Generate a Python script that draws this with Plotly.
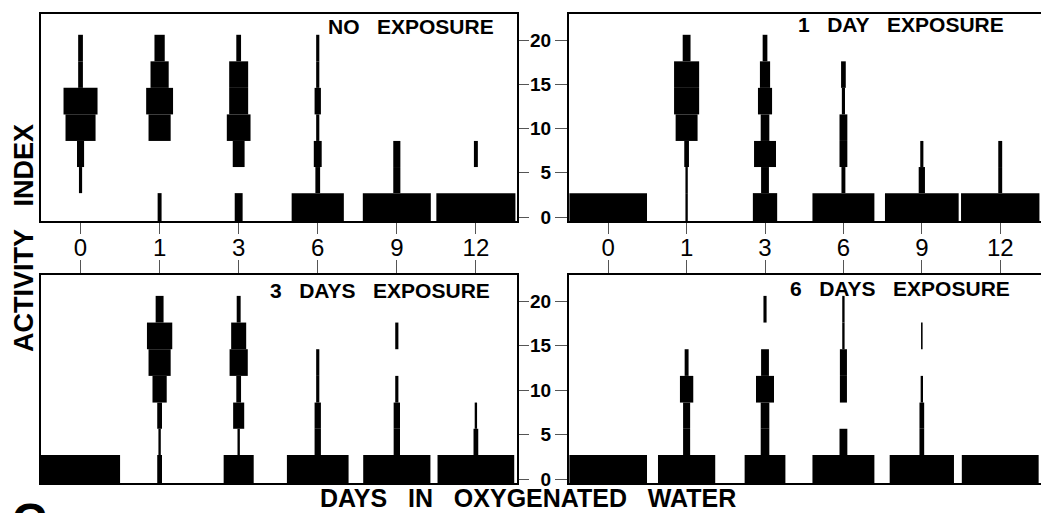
import plotly.graph_objects as go

# ---------------- data ----------------
days = ["0", "1", "3", "6", "9", "12"]
panel_titles = ["NO EXPOSURE", "1 DAY EXPOSURE", "3 DAYS EXPOSURE", "6 DAYS EXPOSURE"]
# activity-index class boundaries (bottom class = inactive)
level_edges = [-0.45, 2.7, 5.65, 8.6, 11.6, 14.6, 17.6, 20.6]
y_ticks = [0, 5, 10, 15, 20]

# kite widths (fraction of column spacing) per day, per activity class (low -> high)
no_exposure = [
    [0.00, 0.04, 0.09, 0.38, 0.43, 0.06, 0.06],
    [0.05, 0.00, 0.00, 0.28, 0.34, 0.23, 0.13],
    [0.10, 0.00, 0.15, 0.30, 0.24, 0.24, 0.06],
    [0.66, 0.06, 0.10, 0.04, 0.08, 0.04, 0.04],
    [0.86, 0.09, 0.09, 0.00, 0.00, 0.00, 0.00],
    [1.00, 0.00, 0.05, 0.00, 0.00, 0.00, 0.00],
]
one_day = [
    [0.99, 0.00, 0.00, 0.00, 0.00, 0.00, 0.00],
    [0.03, 0.03, 0.06, 0.28, 0.32, 0.32, 0.10],
    [0.31, 0.10, 0.28, 0.11, 0.18, 0.13, 0.06],
    [0.79, 0.05, 0.10, 0.10, 0.04, 0.06, 0.00],
    [0.94, 0.08, 0.04, 0.00, 0.00, 0.00, 0.00],
    [1.00, 0.05, 0.05, 0.00, 0.00, 0.00, 0.00],
]
three_days = [
    [1.00, 0.00, 0.00, 0.00, 0.00, 0.00, 0.00],
    [0.06, 0.03, 0.06, 0.18, 0.28, 0.32, 0.10],
    [0.38, 0.03, 0.14, 0.06, 0.23, 0.19, 0.05],
    [0.78, 0.08, 0.08, 0.04, 0.04, 0.00, 0.00],
    [0.85, 0.08, 0.08, 0.04, 0.00, 0.04, 0.00],
    [0.97, 0.06, 0.03, 0.00, 0.00, 0.00, 0.00],
]
six_days = [
    [0.99, 0.00, 0.00, 0.00, 0.00, 0.00, 0.00],
    [0.73, 0.09, 0.09, 0.17, 0.05, 0.00, 0.00],
    [0.52, 0.11, 0.11, 0.23, 0.10, 0.00, 0.04],
    [0.79, 0.10, 0.00, 0.09, 0.09, 0.03, 0.03],
    [0.82, 0.06, 0.06, 0.03, 0.00, 0.02, 0.00],
    [0.98, 0.00, 0.00, 0.00, 0.00, 0.00, 0.00],
]
panels = [no_exposure, one_day, three_days, six_days]

# ---------------- layout helpers ----------------
W, H = 1042, 513
def px(x):
    return x / W
def py(y):
    return 1 - y / H

x_dom = {"L": [px(41), px(517)], "R": [px(569), px(1041)]}
y_dom = {"T": [py(221), py(14)], "B": [py(483), py(275)]}
pos = [("L", "T"), ("R", "T"), ("L", "B"), ("R", "B")]

fig = go.Figure()
for p, data in enumerate(panels):
    ax = "" if p == 0 else str(p + 1)
    for b in range(len(level_edges) - 1):
        xs, ws = [], []
        for d in range(len(days)):
            w = data[d][b]
            if w > 0:
                xs.append(d)
                ws.append(w)
        if not xs:
            continue
        fig.add_trace(go.Bar(
            x=xs, y=[level_edges[b + 1] - level_edges[b]] * len(xs),
            base=[level_edges[b]] * len(xs), width=ws,
            marker=dict(color="black", line=dict(width=0)),
            xaxis="x" + ax, yaxis="y" + ax, showlegend=False, hoverinfo="skip"))

NB = "\u00a0"

layout = dict(width=W, height=H, margin=dict(l=0, r=0, t=0, b=0, autoexpand=False),
              paper_bgcolor="white", plot_bgcolor="white", barmode="overlay",
              font=dict(family="Liberation Sans, Arial, sans-serif", color="black"))

tick_font_x = dict(family="Liberation Sans, Arial", size=24, color="black")
tick_font_y = dict(family="Liberation Sans, Arial", size=19, color="black", weight="bold")

for p, (cx, ry) in enumerate(pos):
    ax = "" if p == 0 else str(p + 1)
    top = ry == "T"
    xa = dict(domain=x_dom[cx], range=[-0.5, 5.52], tickmode="array",
              tickvals=list(range(len(days))), ticktext=days,
              showline=True, linecolor="black", linewidth=2, mirror=True,
              showgrid=False, zeroline=False, ticks="outside", tickcolor="#555",
              tickwidth=1, ticklen=11 if top else 13,
              side="bottom" if top else "top", showticklabels=top,
              ticklabelstandoff=-7,
              tickfont=tick_font_x, anchor="y" + ax, fixedrange=True, automargin=False)
    left = cx == "L"
    ya = dict(domain=y_dom[ry], range=[-0.45, 22.95], tickmode="array",
              tickvals=y_ticks, ticktext=[str(v) for v in y_ticks],
              showline=True, linecolor="black", linewidth=2, mirror=left,
              showgrid=False, zeroline=False, ticks="outside", tickcolor="#555",
              tickwidth=1, ticklen=10 if left else 12,
              side="right" if left else "left", showticklabels=not left,
              tickfont=tick_font_y, anchor="x" + ax, fixedrange=True, automargin=False)
    layout["xaxis" + ax] = xa
    layout["yaxis" + ax] = ya

fig.update_layout(**layout)

title_font = dict(family="Liberation Sans, Arial", size=21, color="black", weight="bold")
title_pos = [(496, 27), (1006, 24), (492, 290), (1012, 288)]
for t, (tx, ty) in zip(panel_titles, title_pos):
    fig.add_annotation(text=(NB * 3).join(t.split(" ")), x=px(tx), y=py(ty),
                       xref="paper", yref="paper", xanchor="right", yanchor="middle",
                       showarrow=False, font=title_font)

axis_font = dict(family="Liberation Sans, Arial", size=25, color="black", weight="bold")
fig.add_annotation(text=(NB * 3).join("DAYS IN OXYGENATED WATER".split(" ")),
                   x=px(528), y=py(498),
                   xref="paper", yref="paper", xanchor="center", yanchor="middle",
                   showarrow=False, font=axis_font)
fig.add_annotation(text=(NB * 3).join("ACTIVITY INDEX".split(" ")),
                   x=px(24), y=py(238), textangle=-90,
                   xref="paper", yref="paper", xanchor="center", yanchor="middle",
                   showarrow=False, font=dict(axis_font, size=27))
# partial figure letter cut off at the lower-left edge of the scan
fig.add_annotation(text="C", x=px(29), y=py(498), xref="paper", yref="paper",
                   xanchor="center", yanchor="top", yshift=6, showarrow=False,
                   font=dict(family="Liberation Sans, Arial", size=48, color="black", weight="bold"))

fig.write_html("out.html", config={"displayModeBar": False, "staticPlot": True},
               post_script="document.body.style.margin='0';document.body.style.padding='0';")
